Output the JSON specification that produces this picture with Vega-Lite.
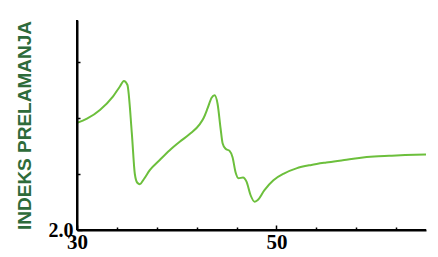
{
  "$schema": "https://vega.github.io/schema/vega-lite/v6.json",
  "width": 349,
  "height": 210,
  "autosize": {"type": "none"},
  "padding": {"left": 77, "top": 20, "right": 12, "bottom": 27},
  "background": "white",
  "config": {"view": {"stroke": null}},
  "data": {"values": [
    {"x": 30.0, "y": 2.306},
    {"x": 31.0, "y": 2.318},
    {"x": 32.3, "y": 2.343},
    {"x": 33.6, "y": 2.381},
    {"x": 34.3, "y": 2.410},
    {"x": 34.7, "y": 2.426},
    {"x": 35.05, "y": 2.415},
    {"x": 35.5, "y": 2.276},
    {"x": 35.8, "y": 2.160},
    {"x": 36.05, "y": 2.135},
    {"x": 36.3, "y": 2.131},
    {"x": 36.7, "y": 2.145},
    {"x": 37.3, "y": 2.171},
    {"x": 38.3, "y": 2.200},
    {"x": 39.3, "y": 2.228},
    {"x": 40.3, "y": 2.252},
    {"x": 41.3, "y": 2.274},
    {"x": 42.3, "y": 2.302},
    {"x": 42.7, "y": 2.320},
    {"x": 43.1, "y": 2.348},
    {"x": 43.5, "y": 2.378},
    {"x": 43.8, "y": 2.385},
    {"x": 44.1, "y": 2.360},
    {"x": 44.4, "y": 2.290},
    {"x": 44.6, "y": 2.248},
    {"x": 44.9, "y": 2.232},
    {"x": 45.3, "y": 2.226},
    {"x": 45.6, "y": 2.208},
    {"x": 45.9, "y": 2.165},
    {"x": 46.2, "y": 2.148},
    {"x": 46.65, "y": 2.150},
    {"x": 47.0, "y": 2.138},
    {"x": 47.4, "y": 2.100},
    {"x": 47.8, "y": 2.081},
    {"x": 48.1, "y": 2.085},
    {"x": 48.8, "y": 2.114},
    {"x": 49.7, "y": 2.142},
    {"x": 50.8, "y": 2.162},
    {"x": 52.0, "y": 2.176},
    {"x": 53.5, "y": 2.186},
    {"x": 55.0, "y": 2.193},
    {"x": 56.8, "y": 2.200},
    {"x": 58.3, "y": 2.206},
    {"x": 59.8, "y": 2.210},
    {"x": 61.3, "y": 2.212},
    {"x": 62.9, "y": 2.214},
    {"x": 65.0, "y": 2.216}
  ]},
  "layer": [
    {
      "mark": {"type": "line", "color": "#6cbf3c", "strokeWidth": 2, "interpolate": "monotone"},
      "encoding": {
        "x": {
          "field": "x", "type": "quantitative",
          "scale": {"domain": [30, 65], "nice": false, "zero": false},
          "axis": {
            "title": null,
            "grid": false,
            "domain": true,
            "ticks": true,
            "zindex": 1,
            "values": [30,31,32,33,34,35,36,37,38,39,40,41,42,43,44,45,46,47,48,49,50,51,52,53,54,55,56,57,58,59,60,61,62,63,64,65],
            "labelExpr": "datum.value % 5 === 0 ? datum.label : ''",
            "tickSize": {"condition": {"test": "datum.value % 5 === 0", "value": -5}, "value": -3},
            "tickColor": "#000000",
            "tickWidth": 1.5,
            "domainColor": "#000000",
            "domainWidth": 2,
            "labelFont": "Liberation Serif",
            "labelFontWeight": "bold",
            "labelFontSize": 21,
            "labelColor": "black",
            "labelPadding": 6,
            "labelOverlap": false,
            "labelFlush": false
          }
        },
        "y": {
          "field": "y", "type": "quantitative",
          "scale": {"domain": [2.0, 2.6], "nice": false, "zero": false},
          "axis": {
            "title": "INDEKS PRELAMANJA",
            "titleFont": "Liberation Sans",
            "titleFontWeight": "bold",
            "titleFontSize": 19,
            "titleColor": "#2e6b3a",
            "titlePadding": 14,
            "grid": false,
            "domain": true,
            "ticks": true,
            "zindex": 1,
            "values": [2.0,2.02,2.04,2.06,2.08,2.1,2.12,2.14,2.16,2.18,2.2,2.22,2.24,2.26,2.28,2.3,2.32,2.34,2.36,2.38,2.4,2.42,2.44,2.46,2.48,2.5,2.52,2.54,2.56,2.58,2.6],
            "labelExpr": "round(datum.value * 100) % 10 === 0 ? format(datum.value, '.1f') : ''",
            "tickSize": {"condition": {"test": "round(datum.value * 100) % 10 === 0", "value": -5}, "value": -3},
            "tickColor": "#000000",
            "tickWidth": 1.5,
            "domainColor": "#000000",
            "domainWidth": 2,
            "labelFont": "Liberation Serif",
            "labelFontWeight": "bold",
            "labelFontSize": 20,
            "labelColor": "black",
            "labelPadding": 9,
            "labelOverlap": false,
            "labelFlush": false
          }
        }
      }
    },
    {
      "mark": {"type": "rule", "color": "black", "strokeWidth": 2},
      "encoding": {"x": {"datum": 30}}
    },
    {
      "mark": {"type": "rule", "color": "black", "strokeWidth": 2},
      "encoding": {"y": {"datum": 2.0}}
    }
  ]
}
